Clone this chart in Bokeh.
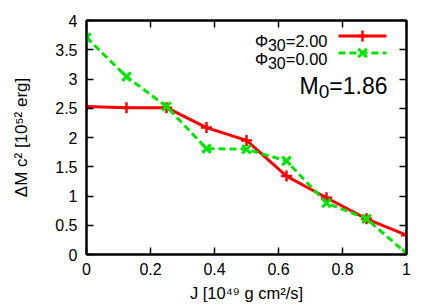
from bokeh.plotting import figure
from bokeh.models import Range1d, LinearAxis, FixedTicker, Label
from bokeh.embed import file_html
from bokeh.resources import INLINE

# ---- data ----
J = [0.0, 0.125, 0.25, 0.375, 0.5, 0.625, 0.75, 0.875, 1.0]
dM_phi2 = [2.53, 2.51, 2.51, 2.17, 1.95, 1.34, 0.97, 0.61, 0.33]
dM_phi0 = [3.71, 3.04, 2.53, 1.81, 1.80, 1.60, 0.88, 0.61, 0.02]
x_ticks = [0, 0.2, 0.4, 0.6, 0.8, 1.0]
x_tick_labels = ["0", "0.2", "0.4", "0.6", "0.8", "1"]
y_ticks = [0, 0.5, 1, 1.5, 2, 2.5, 3, 3.5, 4]
y_tick_labels = ["0", "0.5", "1", "1.5", "2", "2.5", "3", "3.5", "4"]
# rich texts as (text, kind) pieces: kind "n" normal, "sub" subscript
legend_phi2 = [("\u03a6", "n"), ("30", "sub"), ("=2.00", "n")]
legend_phi0 = [("\u03a6", "n"), ("30", "sub"), ("=0.00", "n")]
mass_text = [("M", "n"), ("0", "sub"), ("=1.86", "n")]
x_label = "J [10\u2074\u2079 g cm\u00b2/s]"
y_label = "\u0394M c\u00b2 [10\u2075\u00b2 erg]"

FONT = "Liberation Sans"
RED = "#ff0000"
GREEN = "#00e600"
DASH = "7 4"

# frame geometry (pixels)
W, H = 436, 305
FL, FT, FW, FH = 86, 20, 320, 234
X0, X1, Y0, Y1 = 0.0, 1.0, 0.0, 4.0

def px2x(px):
    return X0 + (px - FL) / FW * (X1 - X0)

def py2y(py):
    return Y0 + (FT + FH - py) / FH * (Y1 - Y0)

p = figure(width=W, height=H, output_backend="svg", toolbar_location=None,
           x_range=Range1d(X0, X1), y_range=Range1d(Y0, Y1),
           min_border_left=FL, min_border_right=W - FL - FW,
           min_border_top=FT, min_border_bottom=H - FT - FH)
p.background_fill_color = "white"
p.border_fill_color = "white"
p.outline_line_color = "black"
p.outline_line_width = 2
p.xgrid.grid_line_color = None
p.ygrid.grid_line_color = None

def style_axis(ax, ticks, labels):
    ax.ticker = FixedTicker(ticks=ticks)
    ax.minor_tick_line_color = None
    ax.major_tick_in = 7
    ax.major_tick_out = 0
    ax.major_tick_line_width = 1.5
    ax.major_tick_line_color = "black"
    ax.axis_line_color = "black"
    ax.axis_line_width = 2
    ax.major_label_overrides = {t: l for t, l in zip(ticks, labels)}
    ax.major_label_text_font = FONT
    ax.major_label_text_font_size = "16px"
    ax.major_label_text_color = "black"

xa = p.xaxis[0]
ya = p.yaxis[0]
style_axis(xa, x_ticks, x_tick_labels)
style_axis(ya, y_ticks, y_tick_labels)
xa.major_label_standoff = 8
ya.major_label_standoff = 9
for ax, lab, so, fs in ((xa, x_label, 6, "16.5px"), (ya, y_label, 21, "17px")):
    ax.axis_label = lab
    ax.axis_label_text_font = FONT
    ax.axis_label_text_font_style = "normal"
    ax.axis_label_text_font_size = fs
    ax.axis_label_text_color = "black"
    ax.axis_label_standoff = so

top = LinearAxis()
right = LinearAxis()
style_axis(top, x_ticks, ["" for _ in x_ticks])
style_axis(right, y_ticks, ["" for _ in y_ticks])
p.add_layout(top, "above")
p.add_layout(right, "right")

# data series
p.line(J, dM_phi2, line_color=RED, line_width=3)
p.scatter(J, dM_phi2, marker="cross", size=11, line_color=RED, line_width=2.5)
p.line(J, dM_phi0, line_color=GREEN, line_width=3, line_dash=DASH)
p.scatter(J, dM_phi0, marker="x", size=12, line_color=GREEN, line_width=3)

# ---- rich text helper (Arial / Liberation Sans advance widths, em) ----
ADV = {"0": .556, "1": .556, "2": .556, "3": .556, "4": .556, "5": .556, "6": .556,
       "7": .556, "8": .556, "9": .556, ".": .278, "=": .584, "M": .833, "\u03a6": .78}

def piece_size(kind, size, small):
    return size if kind == "n" else small

def text_width(pieces, size, small):
    return sum(sum(ADV.get(ch, .556) for ch in t) * piece_size(k, size, small) for t, k in pieces)

def rich_text(pieces, start_px, base_px, size, small, shift_sub):
    pos = 0.0
    for t, k in pieces:
        s = piece_size(k, size, small)
        shift = 0 if k == "n" else -shift_sub
        p.add_layout(Label(x=px2x(start_px), y=py2y(base_px), x_offset=pos, y_offset=shift,
                           text=t, text_align="left", text_baseline="alphabetic",
                           text_font=FONT, text_font_size=f"{s}px", text_color="black"))
        pos += sum(ADV.get(ch, .556) for ch in t) * s

# legend texts (right aligned at px 327)
for pieces, base in ((legend_phi2, 40.5), (legend_phi0, 58)):
    w = text_width(pieces, 16.5, 16)
    rich_text(pieces, 327 - w, base, 16.5, 16, 4)

# mass annotation (right aligned at px 387)
w = text_width(mass_text, 23, 19)
rich_text(mass_text, 387 - w, 85, 23, 19, 6)

# legend keys
key_x0, key_x1 = px2x(338), px2x(386)
key_mid = (key_x0 + key_x1) / 2
for c, d, m, yy in ((RED, "solid", "cross", py2y(35.5)), (GREEN, DASH, "x", py2y(52.5))):
    p.line([key_x0, key_x1], [yy, yy], line_color=c, line_width=3, line_dash=d)
    p.scatter([key_mid], [yy], marker=m, size=11 if m == "cross" else 12,
              line_color=c, line_width=2.5 if m == "cross" else 3)

open("out.html", "w").write(file_html(p, INLINE))
